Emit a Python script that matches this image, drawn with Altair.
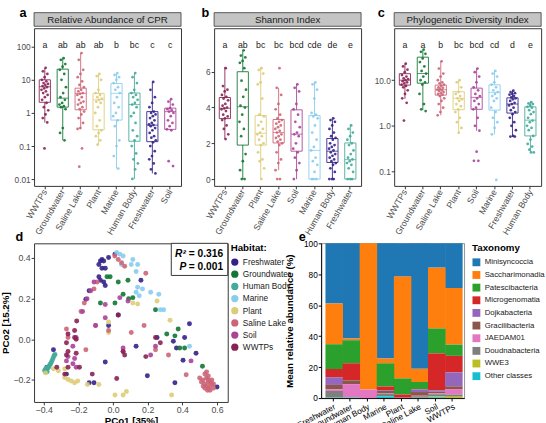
import altair as alt
import pandas as pd

FONT = "Liberation Sans"
WINE, GREEN, TEAL, CYAN = "#882255", "#117733", "#44AA99", "#88CCEE"
SAND, ROSE, PURP, INDIGO = "#DDCC77", "#CC6677", "#AA4499", "#332288"

HABITATS = ["Freshwater", "Groundwater", "Human Body", "Marine", "Plant", "Saline Lake", "Soil", "WWTPs"]
HAB_COLORS = [INDIGO, GREEN, TEAL, CYAN, SAND, ROSE, PURP, WINE]

# ---------------- panel a: relative abundance of CPR ----------------
A_GROUPS = ["WWTPs", "Groundwater", "Saline Lake", "Plant", "Marine", "Human Body", "Freshwater", "Soil"]
A_COLORS = [WINE, GREEN, ROSE, SAND, CYAN, TEAL, INDIGO, PURP]
A_LETTERS = ["a", "ab", "ab", "ab", "b", "bc", "c", "c"]
A_LO = [0.52, 0.15, 0.33, 0.11, 0.021, 0.0102, 0.015, 0.3]
A_Q1 = [2.1, 1.5, 1.25, 0.31, 0.61, 0.14, 0.136, 0.32]
A_MED = [6.2, 2.8, 3.9, 2.5, 3.9, 1.8, 0.43, 1.1]
A_Q3 = [10, 21, 5.6, 3.9, 7.7, 4.0, 1.1, 1.4]
A_HI = [23, 45, 64, 15, 16, 16, 8.6, 2.6]
A_POINTS = {
    "WWTPs": [23, 18, 15, 12, 10, 9, 8, 7.5, 7, 6.5, 6, 5.5, 5, 4.5, 4, 3.5, 3, 2.5, 2, 1.5, 1.2, 0.9, 0.7, 0.52, 0.085],
    "Groundwater": [45, 40, 30, 25, 20, 15, 10, 6, 4, 3, 2.5, 2, 1.8, 1.6, 1.5, 1.3, 0.35, 0.25, 0.15],
    "Saline Lake": [64, 40, 20, 15, 12, 9, 7, 6, 5, 4.5, 4, 3.8, 3.5, 3, 2.5, 2.2, 2, 1.8, 1.5, 1.3, 1.1, 0.9,
                    0.7, 0.5, 0.35, 0.33, 0.085, 0.024],
    "Plant": [15, 13, 10, 5, 4, 3.5, 3, 2.7, 2.5, 2.2, 2, 1.5, 1, 0.6, 0.4, 0.3, 0.25, 0.2, 0.15, 0.11],
    "Marine": [16, 14, 12, 10, 8, 6, 5, 4, 3, 2, 1.5, 1, 0.8, 0.6, 0.4, 0.15, 0.1, 0.05, 0.021],
    "Human Body": [16, 12, 8, 5, 4, 3.5, 3, 2.5, 2, 1.8, 1.5, 1, 0.8, 0.5, 0.3, 0.2, 0.15, 0.1, 0.06, 0.04,
                   0.03, 0.02, 0.0102],
    "Freshwater": [8.6, 5, 3, 2, 1.5, 1.1, 1, 0.9, 0.8, 0.7, 0.6, 0.5, 0.45, 0.43, 0.4, 0.35, 0.3, 0.25, 0.2,
                   0.18, 0.15, 0.13, 0.1, 0.07, 0.05, 0.04, 0.03, 0.02, 0.015],
    "Soil": [2.6, 2.2, 1.8, 1.4, 1.3, 1.2, 1.1, 1, 0.8, 0.6, 0.5, 0.4, 0.32, 0.3, 0.035, 0.025],
}

# ---------------- panel b: Shannon index ----------------
B_GROUPS = ["WWTPs", "Groundwater", "Plant", "Saline Lake", "Soil", "Marine", "Human Body", "Freshwater"]
B_COLORS = [WINE, GREEN, SAND, ROSE, PURP, CYAN, INDIGO, TEAL]
B_LETTERS = ["a", "ab", "bc", "bc", "bcd", "cde", "de", "e"]
B_LO = [2.24, 0, 0, 0.5, 0, 0, 0, 0]
B_Q1 = [3.38, 1.9, 1.9, 2.02, 1.56, 0, 0.93, 0]
B_MED = [3.96, 4.04, 2.56, 2.6, 2.51, 1.6, 1.56, 1.09]
B_Q3 = [4.56, 6.0, 3.55, 3.33, 3.87, 3.55, 2.27, 2.02]
B_HI = [6.27, 7.18, 6.27, 5.1, 5.33, 5.42, 3.38, 3.05]
B_POINTS = {
    "WWTPs": [6.2, 5.2, 5, 4.9, 4.7, 4.6, 4.5, 4.4, 4.2, 4.1, 4, 3.95, 3.9, 3.8, 3.6, 3.5, 3.4, 3.3, 3, 2.8, 2.5, 2.24],
    "Groundwater": [7.2, 6.9, 6.8, 6.6, 6.5, 6.2, 5.5, 5, 4.6, 4.1, 4, 3.6, 3.2, 2.8, 2.4, 1.4, 1, 0.5, 0, 0],
    "Plant": [6.2, 6.1, 5.9, 5.4, 5.3, 4.5, 3.6, 3.5, 3.2, 3, 2.8, 2.6, 2.5, 2.4, 2.2, 2, 1.9, 1.5, 1.1, 1.0, 0.6, 0],
    "Saline Lake": [6.2, 5.1, 4.7, 4.2, 3.9, 3.6, 3.4, 3.3, 3.2, 3.1, 3, 2.9, 2.8, 2.7, 2.6, 2.5, 2.4, 2.3, 2.2,
                    2.1, 2, 1.9, 1.5, 1.1, 0.9, 0.5, 0, 0],
    "Soil": [5.3, 5.1, 4.9, 4.2, 3.9, 3.6, 3.2, 2.9, 2.6, 2.5, 2.4, 2.0, 1.7, 1.5, 1.2, 0.9, 0.5, 0],
    "Marine": [5.4, 5.3, 5.0, 4.5, 3.7, 3.6, 3.5, 3.4, 3.0, 2.6, 2.2, 1.8, 1.6, 1.2, 1.0, 0.8, 0.4, 0, 0, 0],
    "Human Body": [3.4, 3.3, 3.2, 3.0, 2.8, 2.6, 2.4, 2.3, 2.2, 2.0, 1.9, 1.8, 1.7, 1.6, 1.5, 1.4, 1.3, 1.2, 1.1,
                   1.0, 0.9, 0.8, 0.6, 0.4, 0, 0, 0],
    "Freshwater": [3.0, 2.8, 2.6, 2.4, 2.2, 2.0, 1.9, 1.6, 1.4, 1.2, 1.1, 1.0, 0.9, 0.8, 0.6, 0.4, 0, 0, 0],
}

# ---------------- panel c: phylogenetic diversity ----------------
C_GROUPS = ["WWTPs", "Groundwater", "Saline Lake", "Plant", "Soil", "Marine", "Freshwater", "Human Body"]
C_COLORS = [WINE, GREEN, ROSE, SAND, PURP, CYAN, INDIGO, TEAL]
C_LETTERS = ["a", "a", "b", "bc", "bcd", "cd", "d", "e"]
C_LO = [3.9, 2.2, 1.7, 0.7, 0.78, 0.65, 0.58, 0.26]
C_Q1 = [7.8, 8.6, 4.7, 2.25, 2.3, 2.2, 1.9, 0.6]
C_MED = [10, 14, 6.2, 4.0, 4.2, 5.4, 3.0, 1.33]
C_Q3 = [13.9, 32, 7.8, 5.6, 6.7, 7.9, 4.1, 2.6]
C_HI = [23, 47, 26, 10, 18, 16.4, 5.9, 3.3]
C_POINTS = {
    "WWTPs": [23, 20, 17, 15, 13, 12, 11, 10.5, 10, 9.5, 9, 8.5, 8, 7.5, 7, 6, 5, 4, 3.2, 1.3],
    "Groundwater": [47, 42, 38, 30, 25, 20, 16, 14, 12, 10, 9, 8, 5, 3, 2.3, 2.1],
    "Saline Lake": [26, 18, 14, 12, 10, 9, 8.5, 8, 7.5, 7, 6.8, 6.5, 6.2, 6, 5.8, 5.5, 5.2, 5, 4.8, 4.5, 4,
                    3.5, 3, 2.5, 2, 1.7],
    "Plant": [10, 9, 7, 5.5, 5, 4.5, 4, 3.8, 3.5, 3, 2.7, 2.3, 2, 1.5, 1.2, 0.9, 0.7],
    "Soil": [18, 15, 12, 9, 7, 6, 5, 4.5, 4, 3.5, 3, 2.5, 2.3, 1.5, 1.0, 0.78, 0.27, 0.17, 0.17],
    "Marine": [16, 14, 12, 9, 8, 7, 6, 5.5, 5, 4.5, 4, 3.5, 2.5, 2, 1.5, 1.2, 0.9, 0.65, 0.065],
    "Freshwater": [5.9, 5.5, 5.2, 5, 4.8, 4.5, 4.2, 4, 3.8, 3.5, 3.2, 3, 2.8, 2.5, 2.2, 2, 1.8, 1.5, 1.2, 1,
                   0.8, 0.6, 0.58, 0.58],
    "Human Body": [3.3, 3.1, 3, 2.8, 2.6, 2.5, 2.2, 2, 1.8, 1.5, 1.3, 1.2, 1, 0.9, 0.8, 0.6, 0.5, 0.4, 0.35,
                   0.3, 0.26, 0.26],
}

# ---------------- panel d: PCoA ----------------
D_POINTS = {
    "Freshwater": [(-0.064, 0.393), (-0.073, 0.385), (-0.054, 0.385), (-0.082, 0.368), (-0.064, 0.350),
                   (-0.045, 0.350), (-0.026, 0.402), (0.011, 0.419), (-0.082, 0.308), (-0.073, 0.291),
                   (-0.054, 0.282), (-0.045, 0.265), (-0.138, 0.239), (-0.157, 0.197), (0.030, 0.120),
                   (-0.026, 0.068), (-0.045, -0.111), (0.133, -0.034), (0.198, -0.179), (0.254, 0.009),
                   (0.348, -0.009), (0.366, -0.043), (0.413, 0.009), (0.441, 0.077), (0.479, -0.068),
                   (0.404, -0.103), (-0.138, -0.214), (-0.110, -0.214), (0.357, -0.214), (-0.269, -0.171),
                   (-0.344, -0.051), (-0.381, -0.137), (0.600, -0.234), (0.161, 0.291)],
    "Groundwater": [(-0.017, 0.308), (-0.035, 0.308), (0.030, 0.282), (0.086, 0.291), (-0.073, 0.179),
                    (0.011, 0.179), (0.058, 0.222), (0.114, 0.205), (0.245, 0.145), (0.376, 0.051),
                    (0.310, 0.026), (0.357, 0.017), (0.413, -0.043), (0.385, -0.043), (0.516, -0.132),
                    (0.090, 0.200)],
    "Human Body": [(-0.390, -0.160), (-0.385, -0.150), (-0.380, -0.145), (-0.375, -0.140), (-0.370, -0.135),
                   (-0.365, -0.125), (-0.360, -0.120), (-0.355, -0.110), (-0.350, -0.100), (-0.345, -0.090),
                   (-0.340, -0.080), (-0.335, -0.075), (-0.392, -0.150), (-0.395, -0.155), (-0.380, -0.160),
                   (-0.385, -0.140)],
    "Marine": [(0.021, 0.427), (0.039, 0.419), (0.058, 0.410), (0.114, 0.393), (0.105, 0.368), (0.142, 0.368),
               (0.133, 0.333), (0.049, 0.368), (0.142, 0.256), (0.170, 0.248), (0.217, 0.231), (0.264, 0.222),
               (0.273, 0.145), (0.292, 0.145), (0.441, -0.034), (0.151, 0.214), (0.133, 0.231)],
    "Plant": [(-0.344, -0.145), (-0.316, -0.154), (-0.279, -0.188), (-0.260, -0.197), (-0.241, -0.205),
              (-0.222, -0.214), (-0.204, -0.205), (-0.148, -0.222), (-0.082, -0.222), (0.011, -0.274),
              (0.058, -0.274), (0.077, -0.256), (0.338, -0.274), (-0.026, 0.034), (-0.026, 0.085),
              (0.114, 0.179), (0.142, 0.174), (0.329, 0.094), (0.254, 0.188), (-0.279, -0.145),
              (-0.390, -0.165)],
    "Saline Lake": [(0.030, 0.393), (0.049, 0.376), (0.067, 0.359), (0.189, 0.325), (-0.092, 0.282),
                    (-0.110, 0.248), (-0.166, 0.179), (-0.185, 0.137), (-0.269, 0.051), (-0.260, 0.009),
                    (-0.101, 0.068), (-0.026, 0.043), (0.105, 0.034), (0.245, -0.051), (0.320, -0.077),
                    (0.422, -0.174), (0.058, -0.060), (-0.157, -0.051), (0.179, 0.068), (0.010, 0.410),
                    (0.53, -0.17), (0.54, -0.19), (0.55, -0.20), (0.56, -0.21), (0.57, -0.22), (0.52, -0.20),
                    (0.53, -0.22), (0.54, -0.23), (0.55, -0.24), (0.56, -0.25), (0.58, -0.24), (0.57, -0.20),
                    (0.55, -0.18), (0.51, -0.21), (0.53, -0.24), (0.56, -0.23), (0.58, -0.22), (0.54, -0.16),
                    (0.52, -0.23), (0.50, -0.19), (0.545, -0.25), (0.55, -0.21)],
    "Soil": [(-0.129, 0.239), (-0.110, 0.282), (-0.176, 0.137), (-0.045, 0.106), (0.039, 0.205), (0.086, 0.188),
             (-0.101, 0.068), (-0.213, 0.009), (-0.232, -0.034), (-0.222, -0.094), (-0.260, -0.085),
             (-0.269, -0.106), (-0.213, -0.137), (-0.045, 0.171), (0.217, -0.077), (0.245, -0.034),
             (0.058, -0.043), (0.450, -0.106), (-0.232, -0.120), (-0.150, 0.200)],
    "WWTPs": [(-0.260, 0.026), (-0.222, 0.043), (-0.222, 0.009), (-0.213, 0.000), (-0.269, -0.017),
              (-0.260, -0.060), (-0.269, -0.077), (-0.213, -0.068), (-0.325, -0.137), (-0.279, -0.171),
              (-0.120, -0.171), (0.021, -0.193), (0.058, -0.060), (0.067, -0.077), (0.189, -0.085),
              (0.245, 0.009), (0.273, -0.017), (-0.260, -0.137), (-0.194, -0.137), (0.030, 0.120),
              (-0.210, 0.090)],
}
D_STATS = ["R\u00b2", "= 0.316", "P", "= 0.001"]

# ---------------- panel e: taxonomy composition ----------------
E_HABS = ["Freshwater", "Groundwater", "Human Body", "Marine", "Plant", "Saline Lake", "Soil", "WWTPs"]
TAXA = ["Minisyncoccia", "Saccharimonadia", "Patescibacteria", "Microgenomatia", "Dojkabacteria",
        "Gracilibacteria", "JAEDAM01", "Doudnabacteria", "WWE3", "Other classes"]
TAXA_COLORS = ["#1f77b4", "#ff7f0e", "#2ca02c", "#d62728", "#9467bd", "#8c564b", "#e377c2", "#7f7f7f",
               "#bcbd22", "#17becf"]
E_VALUES = {
    "Minisyncoccia": [38.9, 61.5, 0, 74.5, 21.5, 81.1, 15.7, 28.9],
    "Saccharimonadia": [26.3, 1.1, 94.5, 3.0, 65.8, 8.5, 39.3, 36.5],
    "Patescibacteria": [16.0, 14.9, 0, 15.0, 10.4, 4.6, 16.1, 7.3],
    "Microgenomatia": [5.3, 10.8, 0, 2.3, 2.0, 0.3, 23.8, 10.7],
    "Dojkabacteria": [5.0, 0.2, 0, 0.5, 0.1, 1.6, 0.9, 9.0],
    "Gracilibacteria": [2.8, 2.5, 0, 1.5, 0.1, 2.4, 1.2, 1.8],
    "JAEDAM01": [1.1, 8.4, 5.5, 0.3, 0.05, 0.3, 0.5, 3.5],
    "Doudnabacteria": [4.3, 0.2, 0, 1.5, 0.05, 1.0, 1.5, 1.4],
    "WWE3": [0.1, 0.1, 0, 0.2, 0, 0.1, 0.5, 0.9],
    "Other classes": [0.2, 0.3, 0, 1.2, 0, 0.1, 0.5, 0],
}

ONE = alt.Data(values=[{"k": 0}])
FRAME = alt.ViewBackground(stroke="#333333", strokeWidth=1)


def tag_mark(tag, x, y):
    return alt.Chart(ONE).mark_text(fontSize=13, fontWeight="bold", align="left", baseline="alphabetic",
                                    color="black").encode(x=alt.value(x), y=alt.value(y), text=alt.value(tag))


def box_panel(groups, colors, letters, lo, q1, med, q3, hi, points, title, tag, tag_x, log, domain, ticks, fmt):
    W, H = 151, 162
    stats = pd.DataFrame(dict(g=groups, c=colors, lab=letters, lo=lo, q1=q1, med=med, q3=q3, hi=hi))
    rows = []
    for g, c in zip(groups, colors):
        for v in points[g]:
            rows.append(dict(g=g, c=c, v=v))
    pts = pd.DataFrame(rows)
    xscale = alt.Scale(domain=groups, paddingInner=0, paddingOuter=0.1)
    xaxis = alt.Axis(title=None, labelAngle=-60, labelAlign="right", labelBaseline="middle", labelFontSize=9,
                     labelColor="#4d4d4d", tickColor="#333333", tickSize=3, domain=False, labelPadding=1)
    yscale = alt.Scale(type="log" if log else "linear", domain=domain, nice=False, zero=False)
    yaxis = alt.Axis(title=None, values=ticks, format=fmt, grid=False, domain=False, tickColor="#333333",
                     tickSize=3, labelColor="#4d4d4d", labelFontSize=8.5, labelPadding=1)
    X = alt.X("g:N", scale=xscale, axis=xaxis)
    col = alt.Color("c:N", scale=None, legend=None)
    base = alt.Chart(stats)
    whisk = base.mark_rule(strokeWidth=0.9).encode(
        x=X, y=alt.Y("lo:Q", scale=yscale, axis=yaxis), y2="hi:Q", color=col)
    box = base.mark_bar(size=11.5, fill="white", strokeWidth=0.9).encode(
        x=X, y=alt.Y("q1:Q", scale=yscale), y2="q3:Q", stroke=alt.Stroke("c:N", scale=None, legend=None))
    medm = base.mark_tick(size=11.5, thickness=1.1).encode(x=X, y=alt.Y("med:Q", scale=yscale), color=col)
    dots = alt.Chart(pts).transform_window(
        rn="row_number()", groupby=["g"]
    ).transform_calculate(
        j="((datum.rn * 0.618034) % 1) - 0.5"
    ).mark_circle(size=8, opacity=0.9).encode(
        x=X, xOffset=alt.XOffset("j:Q", scale=alt.Scale(domain=[-1.25, 1.25])),
        y=alt.Y("v:Q", scale=yscale), color=col)
    lett = base.mark_text(fontSize=9, color="#1a1a1a").encode(x=X, y=alt.value(17), text="lab:N")
    strip = alt.Chart(ONE).mark_rect(fill="#c4c4c4", stroke="#333333", strokeWidth=0.8).encode(
        x=alt.value(0), x2=alt.value(W), y=alt.value(-16), y2=alt.value(-2))
    stript = alt.Chart(ONE).mark_text(fontSize=10, color="#1a1a1a").encode(
        x=alt.value(W / 2), y=alt.value(-8.5), text=alt.value(title))
    return alt.layer(whisk, box, medm, dots, lett, strip, stript, tag_mark(tag, tag_x, -12)).properties(
        width=W, height=H, view=FRAME)


pa = box_panel(A_GROUPS, A_COLORS, A_LETTERS, A_LO, A_Q1, A_MED, A_Q3, A_HI, A_POINTS,
               "Relative Abundance of CPR", "a", -15, True, [0.0063, 360], [0.01, 0.1, 1, 10, 100], "~g")
pb = box_panel(B_GROUPS, B_COLORS, B_LETTERS, B_LO, B_Q1, B_MED, B_Q3, B_HI, B_POINTS,
               "Shannon Index", "b", -13, False, [-0.38, 8.43], [0, 2, 4, 6], "d")
pc = box_panel(C_GROUPS, C_COLORS, C_LETTERS, C_LO, C_Q1, C_MED, C_Q3, C_HI, C_POINTS,
               "Phylogenetic Diversity Index", "c", -17, True, [0.048, 138], [0.1, 1, 10], ".1f")

# ---- panel d
drows = []
for h in HABITATS:
    for x, y in D_POINTS[h]:
        drows.append(dict(hab=h, x=x, y=y))
ddf = pd.DataFrame(drows)
DW, DH = 199, 163
scatter = alt.Chart(ddf).mark_circle(size=26, opacity=0.9).encode(
    x=alt.X("x:Q", scale=alt.Scale(domain=[-0.456, 0.662], nice=False, zero=False),
            axis=alt.Axis(title="PCo1 [35%]", values=[-0.4, -0.2, 0, 0.2, 0.4, 0.6], format=".1f", grid=False,
                          domain=False, labelFontSize=9, labelColor="#4d4d4d", tickColor="#333333", tickSize=3,
                          labelFlush=False, labelPadding=1, titleFontSize=10, titleFontWeight="bold",
                          titleColor="black", titlePadding=1)),
    y=alt.Y("y:Q", scale=alt.Scale(domain=[-0.308, 0.472], nice=False, zero=False),
            axis=alt.Axis(title="PCo2 [15.2%]", values=[-0.2, 0, 0.2, 0.4], format=".1f", grid=False,
                          domain=False, labelFontSize=9, labelColor="#4d4d4d", tickColor="#333333", tickSize=3,
                          labelFlush=False, labelPadding=1, titleFontSize=10, titleFontWeight="bold",
                          titleColor="black", titlePadding=2)),
    color=alt.Color("hab:N", scale=alt.Scale(domain=HABITATS, range=HAB_COLORS),
                    legend=alt.Legend(title="Habitat:", orient="right", offset=3, padding=0,
                                      titleFontSize=10, titleFontWeight="bold", titleColor="black",
                                      labelFontSize=8.5, labelColor="#1a1a1a", symbolType="circle",
                                      symbolSize=55, symbolStrokeWidth=0, symbolOpacity=1,
                                      rowPadding=3.5, titlePadding=5)),
)
sbox = alt.Chart(ONE).mark_rect(fill="white", stroke="#333333", strokeWidth=1).encode(
    x=alt.value(141), x2=alt.value(DW), y=alt.value(0), y2=alt.value(33))
s1 = alt.Chart(ONE).mark_text(fontSize=10.5, fontWeight="bold", fontStyle="italic", align="right").encode(
    x=alt.value(156), y=alt.value(11), text=alt.value(D_STATS[0]))
s2 = alt.Chart(ONE).mark_text(fontSize=10.5, fontWeight="bold", align="left").encode(
    x=alt.value(159), y=alt.value(11), text=alt.value(D_STATS[1]))
s3 = alt.Chart(ONE).mark_text(fontSize=10.5, fontWeight="bold", fontStyle="italic", align="right").encode(
    x=alt.value(156.5), y=alt.value(24), text=alt.value(D_STATS[2]))
s4 = alt.Chart(ONE).mark_text(fontSize=10.5, fontWeight="bold", align="left").encode(
    x=alt.value(159), y=alt.value(24), text=alt.value(D_STATS[3]))
pdd = alt.layer(scatter, sbox, s1, s2, s3, s4, tag_mark("d", -19, -2)).properties(width=DW, height=DH, view=FRAME)

# ---- panel e
erows = []
for t in TAXA:
    for h, v in zip(E_HABS, E_VALUES[t]):
        erows.append(dict(tax=t, hab=h, val=v))
edf = pd.DataFrame(erows)
EW, EH = 147, 159
bars = alt.Chart(edf).transform_calculate(
    ord="indexof(" + str(TAXA).replace("'", '"') + ", datum.tax)"
).mark_bar().encode(
    x=alt.X("hab:N", scale=alt.Scale(domain=E_HABS, paddingInner=0.13, paddingOuter=0.25),
            axis=alt.Axis(title=None, labelAngle=-28, labelAlign="right", labelBaseline="top", labelFontSize=8.5,
                          labelColor="black", tickColor="black", tickSize=3, domainColor="black", labelPadding=1)),
    y=alt.Y("val:Q", stack="zero", scale=alt.Scale(domain=[0, 100], nice=False),
            axis=alt.Axis(title="Mean relative abundance (%)", values=[0, 20, 40, 60, 80, 100], grid=False,
                          labelFontSize=8.5, labelColor="black", tickColor="black", tickSize=3,
                          domainColor="black", labelPadding=1, titleFontSize=10, titleFontWeight="bold",
                          titleColor="black", titlePadding=9)),
    color=alt.Color("tax:N", scale=alt.Scale(domain=TAXA, range=TAXA_COLORS),
                    legend=alt.Legend(title="Taxonomy", orient="right", offset=8, padding=0, titleFontSize=10,
                                      titleFontWeight="bold", titleColor="black", labelFontSize=8,
                                      labelColor="#1a1a1a", symbolType="square", symbolSize=65,
                                      symbolStrokeWidth=0, symbolOpacity=1, rowPadding=4, titlePadding=5)),
    order=alt.Order("ord:Q", sort="descending"),
)
pe = alt.layer(bars, tag_mark("e", -23, -2)).properties(
    width=EW, height=EH, view=alt.ViewBackground(stroke="#777777", strokeWidth=0.8))

top = alt.hconcat(pa, pb, pc, spacing=34, bounds="flush")
bottom = alt.hconcat(pdd, pe, spacing=96, bounds="flush").resolve_scale(color="independent")
chart = alt.concat(top, bottom, columns=1, spacing=-7, align="none").resolve_scale(color="independent").properties(
    padding={"left": 0, "top": 0, "right": 0, "bottom": 0}, background="white"
).configure(font=FONT)

chart.save("out.html", embed_options={"renderer": "svg", "actions": False})
